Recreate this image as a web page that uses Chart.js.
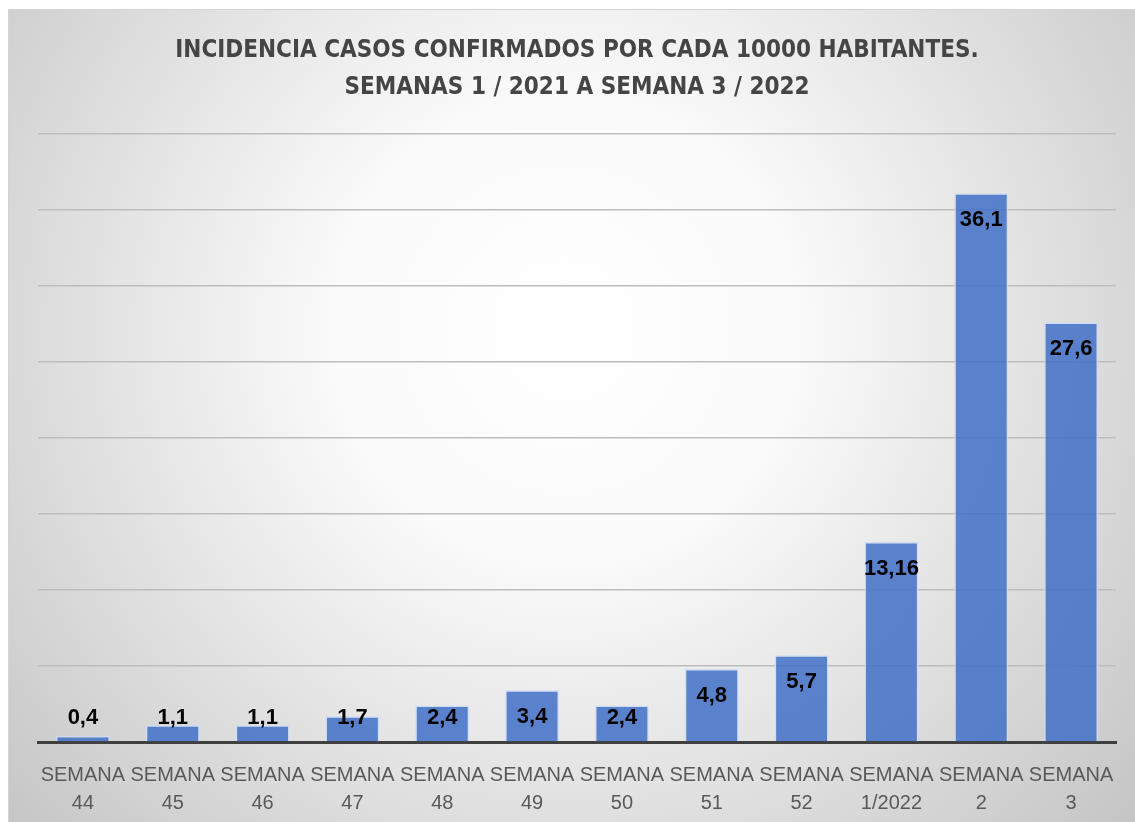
<!DOCTYPE html>
<html>
<head>
<meta charset="utf-8">
<script src="https://cdn.jsdelivr.net/npm/chart.js@4.4.1/dist/chart.umd.min.js"></script>
<style>
  html, body { margin: 0; padding: 0; background: #ffffff; }
  #wrap { position: absolute; left: 0; top: 0; width: 1135px; height: 822px; }
</style>
</head>
<body>
<div id="wrap"><canvas id="c" width="1135" height="822"></canvas></div>
<script>
const categories = [
  ["SEMANA", "44"], ["SEMANA", "45"], ["SEMANA", "46"], ["SEMANA", "47"],
  ["SEMANA", "48"], ["SEMANA", "49"], ["SEMANA", "50"], ["SEMANA", "51"],
  ["SEMANA", "52"], ["SEMANA", "1/2022"], ["SEMANA", "2"], ["SEMANA", "3"]
];
const incidence = [0.4, 1.1, 1.1, 1.7, 2.4, 3.4, 2.4, 4.8, 5.7, 13.16, 36.1, 27.6];
const valueLabels = ["0,4", "1,1", "1,1", "1,7", "2,4", "3,4", "2,4", "4,8", "5,7", "13,16", "36,1", "27,6"];
const titleLines = ["INCIDENCIA CASOS CONFIRMADOS POR CADA 10000 HABITANTES.", "SEMANAS 1 / 2021 A SEMANA 3 / 2022"];
const yMax = 40;
const yStep = 5;

const bgPlugin = {
  id: 'bg',
  beforeDraw(chart) {
    const ctx = chart.ctx;
    ctx.save();
    ctx.fillStyle = '#ffffff';
    ctx.fillRect(0, 0, chart.width, chart.height);
    const g = ctx.createRadialGradient(565, 330, 0, 565, 330, 780);
    g.addColorStop(0, '#ffffff');
    g.addColorStop(0.3, '#fafafa');
    g.addColorStop(1, '#c2c2c2');
    ctx.fillStyle = g;
    ctx.fillRect(8, 9, chart.width - 8, chart.height - 9);
    ctx.strokeStyle = '#d4d4d4';
    ctx.lineWidth = 1;
    ctx.beginPath();
    ctx.moveTo(8.5, chart.height);
    ctx.lineTo(8.5, 9.5);
    ctx.lineTo(chart.width, 9.5);
    ctx.stroke();
    ctx.restore();
  }
};

const labelPlugin = {
  id: 'vlabels',
  afterDatasetsDraw(chart) {
    const ctx = chart.ctx;
    const meta = chart.getDatasetMeta(0);
    const base = chart.scales.y.getPixelForValue(0);
    ctx.save();
    ctx.font = 'bold 22px "Liberation Sans", Arial, sans-serif';
    ctx.fillStyle = '#000000';
    ctx.textAlign = 'center';
    ctx.textBaseline = 'middle';
    meta.data.forEach((bar, i) => {
      const y = Math.min(bar.y + 27, base - 24);
      ctx.fillText(valueLabels[i], bar.x, y);
    });
    ctx.restore();
  }
};

new Chart(document.getElementById('c'), {
  type: 'bar',
  data: {
    labels: categories,
    datasets: [{
      data: incidence,
      backgroundColor: 'rgba(66,112,198,0.86)',
      borderColor: 'rgba(205,220,245,0.9)',
      borderWidth: 1.5,
      barPercentage: 0.6,
      categoryPercentage: 1.0
    }]
  },
  options: {
    responsive: false,
    animation: false,
    devicePixelRatio: 1,
    layout: { padding: { left: 38, right: 19, top: 32, bottom: 0 } },
    plugins: {
      legend: { display: false },
      tooltip: { enabled: false },
      title: {
        display: true,
        text: titleLines,
        color: '#454545',
        font: { family: '"DejaVu Sans Condensed", "Liberation Sans", sans-serif', size: 24, weight: 'bold', lineHeight: 1.54 },
        padding: { top: 0, bottom: 28 }
      }
    },
    scales: {
      x: {
        grid: { display: false, drawTicks: false },
        border: { display: true, color: '#404040', width: 3 },
        ticks: {
          color: '#595959',
          font: { family: '"Liberation Sans", Arial, sans-serif', size: 20, lineHeight: 1.4 },
          padding: 19,
          maxRotation: 0,
          autoSkip: false
        },
        afterFit(axis) { axis.height = 80; }
      },
      y: {
        min: 0,
        max: yMax,
        ticks: { display: false, stepSize: yStep },
        grid: { color: '#bdbdbd', lineWidth: 1.5, drawTicks: false },
        border: { display: false },
        afterFit(axis) { axis.width = 0; }
      }
    }
  },
  plugins: [bgPlugin, labelPlugin]
});
</script>
</body>
</html>
